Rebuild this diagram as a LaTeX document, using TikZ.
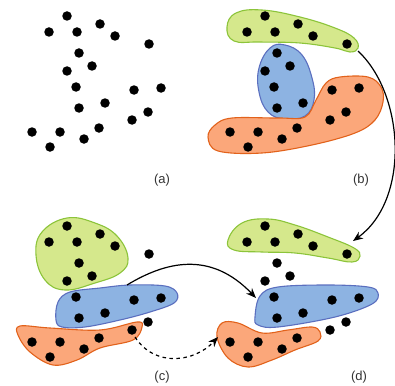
\documentclass[tikz,border=0pt]{standalone}
\usepackage{fontspec}
\setmainfont{Liberation Sans}
\usetikzlibrary{arrows.meta}
\definecolor{gfill}{HTML}{D5E88C}
\definecolor{gline}{HTML}{8CC43A}
\definecolor{bfill}{HTML}{8DB3E2}
\definecolor{bline}{HTML}{5B6FBF}
\definecolor{ofill}{HTML}{FBA77A}
\definecolor{oline}{HTML}{E2621B}
\definecolor{lab}{HTML}{333333}
\begin{document}
\begin{tikzpicture}[x=1pt,y=-1pt,
  dot/.style={circle,fill=black,inner sep=0pt,minimum size=9.5pt},
  gblob/.style={fill=gfill,draw=gline,line width=1.1pt},
  bblob/.style={fill=bfill,draw=bline,line width=1.1pt},
  oblob/.style={fill=ofill,draw=oline,line width=1.1pt},
  lbl/.style={text=lab,font=\fontsize{13}{15}\selectfont,inner sep=0pt},
  conn/.style={line width=1.2pt,-{Stealth[length=10pt,width=8pt]}},
  dconn/.style={line width=1.2pt,dash pattern=on 3.5pt off 3.5pt,-{Stealth[length=10pt,width=8pt]}}]
\useasboundingbox (0,0) rectangle (395,385);

% ---- blobs (b)
\draw[gblob] plot[smooth cycle,tension=0.7] coordinates {(227,27) (236,13) (262,10) (300,17) (335,28) (354,38) (358,48) (350,52) (335,48) (300,43) (260,42) (234,41)};
\draw[bblob] plot[smooth cycle,tension=0.7] coordinates {(270,48) (285,45) (302,55) (312,78) (314,100) (305,116) (285,119) (268,112) (259,92) (259,68)};
\draw[oblob] plot[smooth cycle,tension=0.6] coordinates {(208,137) (215,125) (232,118) (278,118) (305,117) (316,100) (326,83) (340,77) (368,77) (381,87) (383,102) (375,120) (355,133) (312,145) (262,153) (218,151)};

% ---- blobs (c)
\draw[gblob] plot[smooth cycle,tension=0.7] coordinates {(67,218) (95,223) (117,236) (128,258) (120,273) (95,283) (65,290) (45,280) (36,255) (42,232)};
\draw[bblob] plot[smooth cycle,tension=0.6] coordinates {(56,320) (58,302) (70,292) (100,288) (130,285) (165,286) (177,293) (174,303) (150,312) (120,320) (85,327) (62,327)};
\draw[oblob] plot[smooth cycle,tension=0.6] coordinates {(20,326) (18,335) (30,352) (53,365) (77,360) (100,348) (133,340) (142,327) (137,322) (100,330) (50,328)};

% ---- blobs (d)
\draw[gblob] plot[smooth cycle,tension=0.7] coordinates {(228,240) (242,223) (268,219) (295,225) (328,237) (354,248) (360,256) (352,262) (328,258) (295,253) (262,252) (234,250)};
\draw[bblob] plot[smooth cycle,tension=0.6] coordinates {(255,317) (260,296) (278,287) (328,285) (368,287) (378,293) (372,304) (335,317) (278,327) (258,325)};
\draw[oblob] plot[smooth cycle,tension=0.6] coordinates {(222,323) (217,337) (228,358) (248,367) (272,360) (295,350) (318,341) (320,332) (312,327) (288,330) (262,333) (238,323)};

% ---- dots
\foreach \p/\sx/\sy in {a/0/0, b/198/0, c/0/210, d/198/210}{
  \begin{scope}[shift={(\sx,\sy)}]
  \foreach \i/\x/\y in {1/67/16, 2/49/32, 3/77/32, 4/100/24, 5/115/36, 6/149/44,
      7/79/53, 8/92/66, 9/67/71, 10/76/87, 11/134/90, 12/161/88, 13/79/108,
      14/105/103, 15/132/120, 16/148/112, 17/32/132, 18/60/132, 19/99/128,
      20/84/139, 21/50/147}
    \node[dot] (\p\i) at (\x,\y) {};
  \end{scope}
}

% ---- labels
\node[lbl] (la) at (162,180) {(a)};
\node[lbl] (lb) at (361,180) {(b)};
\node[lbl] (lc) at (162,377) {(c)};
\node[lbl] (ld) at (359,377) {(d)};

% ---- connectors
\coordinate (s1) at (358,51);
\coordinate (e1) at (353,241);
\coordinate (s2) at (127,285);
\coordinate (e2) at (256,298);
\coordinate (s3) at (135,337);
\coordinate (e3) at (218,337);
\draw[conn] (s1) .. controls (405,95) and (410,200) .. (e1);
\draw[conn] (s2) .. controls (165,262) and (210,250) .. (e2);
\draw[dconn] (s3) .. controls (155,368) and (195,362) .. (e3);
\end{tikzpicture}
\end{document}
